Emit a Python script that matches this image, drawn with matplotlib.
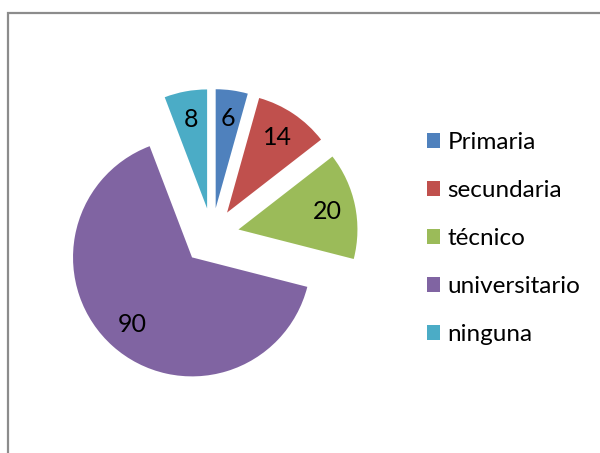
import matplotlib.pyplot as plt
from matplotlib.patches import Rectangle

# datos
categorias = ['Primaria', 'secundaria', 'técnico', 'universitario', 'ninguna']
valores = [6, 14, 20, 90, 8]
colores = ['#4F81BD', '#C0504D', '#9BBB59', '#8064A2', '#4BACC6']

plt.rcParams['font.family'] = ['Lato', 'DejaVu Sans']

fig = plt.figure(figsize=(6, 4.53), dpi=100)
ax = fig.add_axes([0, 0, 1, 1])
ax.set_xlim(0, 600)
ax.set_ylim(0, 453)
ax.axis('off')

# borde del gráfico
ax.add_patch(Rectangle((7.5, -10), 700, 453 - 12.5 + 10, fill=False,
                       edgecolor='#8c8c8c', linewidth=1.6))

total = sum(valores)
wedges, textos, autotextos = ax.pie(
    valores, colors=colores, startangle=90, counterclock=False,
    center=(212, 453 - 235), radius=119, explode=[27, 27, 27, 30, 27],
    autopct=lambda p: '%d' % round(p * total / 100), pctdistance=0.76,
    textprops={'fontsize': 18, 'color': 'black'})
ax.set_aspect('equal')
ax.set_xlim(0, 600)
ax.set_ylim(0, 453)

fig.legend(wedges, categorias, loc='upper left', bbox_to_anchor=(427 / 600, 1 - 132 / 453),
           frameon=False, fontsize=17.5, handlelength=0.55, handleheight=0.55,
           handletextpad=0.3, labelspacing=1.11, borderpad=0, borderaxespad=0)

fig.savefig('out.png', dpi=100, facecolor='white')
